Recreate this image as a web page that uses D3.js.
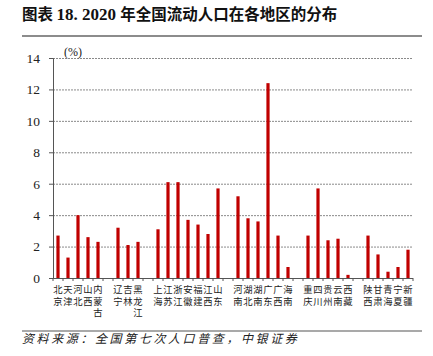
<!DOCTYPE html>
<html><head><meta charset="utf-8">
<script src="https://cdn.jsdelivr.net/npm/d3@7/dist/d3.min.js"></script>
<style>body{margin:0;background:#fff}svg{display:block}</style>
</head><body>
<svg id="c" width="433" height="356"></svg>
<script>
const groups = [
  ["北京","天津","河北","山西","内蒙古"],
  ["辽宁","吉林","黑龙江"],
  ["上海","江苏","浙江","安徽","福建","江西","山东"],
  ["河南","湖北","湖南","广东","广西","海南"],
  ["重庆","四川","贵州","云南","西藏"],
  ["陕西","甘肃","青海","宁夏","新疆"]
];
const values = [
  2.7,1.3,4.0,2.6,2.3,
  3.2,2.1,2.3,
  3.1,6.1,6.1,3.7,3.4,2.8,5.7,
  5.2,3.8,3.6,12.4,2.7,0.7,
  2.7,5.7,2.4,2.5,0.2,
  2.7,1.5,0.4,0.7,1.8
];
const yTicks = [0,2,4,6,8,10,12,14];
const title = "图表 18. 2020 年全国流动人口在各地区的分布";
const source = "资料来源：全国第七次人口普查，中银证券";

const svg = d3.select("#c");
const mLeft = 53, mRight = 413, mTop = 58, mBottom = 278;

// build slots (categories with gap slots between groups)
const slots = [];
const data = [];
let vi = 0;
groups.forEach((g, gi) => {
  if (gi > 0) slots.push("gap" + gi);
  g.forEach(name => { slots.push(name); data.push({name, value: values[vi++]}); });
});

const x = d3.scaleBand().domain(slots).range([mLeft, mRight]).paddingInner(0).paddingOuter(0);
const y = d3.scaleLinear().domain([0, 14]).range([mBottom, mTop]);

// title
const t = svg.append("text").attr("x", 22).attr("y", 20)
  .attr("font-family", "'Noto Sans CJK SC'").attr("font-weight", "bold")
  .attr("font-size", 15.5).attr("fill", "#111");
t.append("tspan").text("图表 ");
t.append("tspan").attr("font-family","'Liberation Serif'").attr("font-size",17).text("18. 2020 ");
t.append("tspan").text("年全国流动人口在各地区的分布");
svg.append("line").attr("x1",22).attr("x2",422).attr("y1",36).attr("y2",36)
  .attr("stroke","#8c8c8c").attr("stroke-width",2);

// gridlines
svg.append("g").selectAll("line").data(yTicks.filter(d => d > 0)).join("line")
  .attr("x1", mLeft).attr("x2", mRight)
  .attr("y1", d => y(d)+0.5).attr("y2", d => y(d)+0.5)
  .attr("stroke", "#8a8a8a").attr("stroke-width", 1).attr("stroke-dasharray", "2,1");

// y axis
const yAxis = d3.axisLeft(y).tickValues(yTicks).tickSize(4).tickPadding(9);
const ya = svg.append("g").attr("transform", `translate(${mLeft},0)`).call(yAxis);
ya.select(".domain").attr("stroke", "#555");
ya.selectAll(".tick line").attr("stroke", "#555");
ya.selectAll("text").attr("font-family", "'Liberation Serif'").attr("font-size", 13.5).attr("fill", "#222");

svg.append("text").attr("x", 73).attr("y", 56).attr("text-anchor","middle")
  .attr("font-family","'Liberation Serif'").attr("font-size",12).attr("fill","#222").text("(%)");

// bars
const bw = 3.2;
svg.append("g").selectAll("rect").data(data).join("rect")
  .attr("x", d => x(d.name) + x.bandwidth()/2 - bw/2)
  .attr("width", bw)
  .attr("y", d => y(d.value))
  .attr("height", d => y(0) - y(d.value))
  .attr("fill", "#c00000");

// x axis
svg.append("line").attr("x1", mLeft).attr("x2", mRight).attr("y1", mBottom+0.5).attr("y2", mBottom+0.5)
  .attr("stroke","#555").attr("stroke-width",1.2);
const bounds = slots.map(s => x(s)).concat([mRight]);
svg.append("g").selectAll("line").data(bounds).join("line")
  .attr("x1", d => d).attr("x2", d => d).attr("y1", mBottom).attr("y2", mBottom+3)
  .attr("stroke","#555");

// category labels (vertical text, one element per label)
svg.append("g").selectAll("text").data(data).join("text")
  .attr("x", d => x(d.name) + x.bandwidth()/2)
  .attr("y", 285)
  .style("writing-mode", "vertical-rl")
  .style("text-orientation", "upright")
  .attr("letter-spacing", 2.2)
  .attr("font-family", "'Noto Sans CJK SC'").attr("font-size", 9.3).attr("fill", "#222")
  .text(d => d.name);

// source
svg.append("line").attr("x1",22).attr("x2",422).attr("y1",331).attr("y2",331)
  .attr("stroke","#8c8c8c").attr("stroke-width",1.5);
svg.append("text").attr("x",22).attr("y",343)
  .attr("font-family","'Noto Sans CJK SC'").attr("font-style","italic").attr("font-size",12)
  .attr("letter-spacing",2.6).attr("fill","#222").text(source);
</script>
</body></html>
